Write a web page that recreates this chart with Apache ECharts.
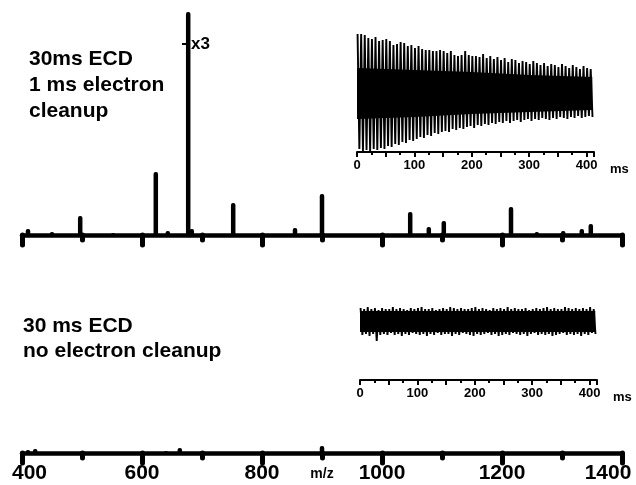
<!DOCTYPE html>
<html>
<head>
<meta charset="utf-8">
<script src="https://cdn.jsdelivr.net/npm/echarts@6/dist/echarts.min.js"></script>
<style>
html,body{margin:0;padding:0;background:#fff;}
#chart{width:636px;height:485px;}
</style>
</head>
<body>
<div id="chart"></div>
<script>
// ---------- data ----------
// Top spectrum (30 ms ECD, 1 ms electron cleanup): m/z and displayed intensity (arb.)
const mzTop  = [410, 450, 497, 552, 623, 643, 677, 683, 752, 855, 900, 1047, 1078, 1103, 1215, 1258, 1302, 1333, 1348];
const intTop = [6,   3,   19,  2,   63,  4,   223, 6,   32,  7,   41,  23,   8,    14,   28,   3,    4,    6,    11];
// Bottom spectrum (30 ms ECD, no electron cleanup)
const mzBot  = [410, 422, 640, 663, 900];
const intBot = [3,   4,   2,   5,   7];
// Axis tick labels
const mzTicks = [400, 600, 800, 1000, 1200, 1400];
const msTicks = [0, 100, 200, 300, 400];

// Transient (top inset): spike extremes, one pair per beat, sampled every 6.25 ms
const transStep = 6.25;
const transTop = [59, 59, 58, 55, 54, 56, 52, 53, 54, 52, 48, 49, 51, 50, 47, 48, 45, 47, 44, 43, 43, 42, 42, 43, 42, 40, 42, 38, 37, 38, 42, 38, 37,
                  37, 36, 39, 35, 37, 34, 36, 33, 35, 31, 34, 33, 30, 32, 31, 29, 32, 30, 28, 30, 27, 29, 28, 26, 29, 27, 25, 28, 26, 24, 27, 25, 24];
const transBot = [-56, -58, -57, -58, -56, -57, -55, -56, -53, -54, -51, -52, -49, -50, -47, -48, -46, -44, -45, -42, -43, -40, -41, -39, -38, -39, -36, -37, -35, -36, -34, -33, -35,
                  -32, -33, -31, -32, -30, -31, -29, -30, -28, -30, -28, -27, -29, -27, -26, -28, -26, -27, -25, -26, -27, -25, -26, -24, -25, -26, -24, -25, -23, -25, -24, -23, -24];
const transCoreT   = [0, 100, 200, 300, 410];
const transCoreTop = [25, 23, 21, 18, 16];
const transCoreBot = [-26, -24, -21, -19, -17];

// Transient (bottom inset): noise extremes
const noiseTop = [13, 12, 14, 12, 13, 11, 13, 12, 12, 14, 12, 13, 12, 11, 13, 12, 13, 14, 12, 12, 13, 11, 12, 13, 12, 14, 13, 12, 13, 12, 12, 13, 14,
                  12, 13, 12, 11, 13, 12, 13, 12, 14, 12, 13, 12, 12, 13, 11, 12, 13, 12, 13, 14, 12, 13, 12, 12, 14, 13, 12, 13, 12, 13, 12, 14, 12];
const noiseBot = [-14, -13, -15, -13, -20, -14, -13, -14, -12, -14, -13, -15, -13, -14, -12, -13, -14, -13, -15, -13, -14, -12, -14, -13, -13, -15, -13, -14, -12, -13, -14, -15, -13,
                  -14, -13, -12, -14, -13, -15, -14, -13, -14, -12, -13, -14, -13, -15, -13, -12, -14, -13, -14, -13, -15, -14, -13, -12, -14, -13, -14, -13, -15, -13, -14, -12, -13];
const noiseCoreT   = [0, 410];
const noiseCoreTop = [10, 10];
const noiseCoreBot = [-11, -11];

// ---------- build ----------
const FONT = 'Liberation Sans, Arial, Helvetica, sans-serif';
function zigzag(tops, bots, step) {
  const out = [];
  for (let i = 0; i < tops.length; i++) {
    const t = 1 + i * step;
    out.push([t, tops[i]]);
    out.push([t + step / 2, bots[i]]);
  }
  return out;
}
function pairs(xs, ys) { return xs.map((x, i) => [x, ys[i]]); }

const mainAxisCommon = {
  type: 'value', min: 400, max: 1400, interval: 200,
  axisLine: { show: true, onZero: false, lineStyle: { color: '#000', width: 4.5, cap: 'round' } },
  axisTick: { show: true, length: 10, lineStyle: { color: '#000', width: 5, cap: 'round' } },
  minorTick: { show: true, splitNumber: 2, length: 5, lineStyle: { color: '#000', width: 5, cap: 'round' } },
  splitLine: { show: false }, minorSplitLine: { show: false }
};

const insetAxis = (gridIndex) => ({
  type: 'value', gridIndex, min: 0, max: 413, interval: 50,
  name: 'ms', nameLocation: 'end', nameGap: 16, nameMoveOverlap: false,
  nameTextStyle: { color: '#000', fontFamily: FONT, fontWeight: 'bold', fontSize: 13, verticalAlign: 'top', padding: [11, 0, 0, 0] },
  axisLine: { show: true, onZero: false, lineStyle: { color: '#000', width: 2 } },
  axisTick: { show: true, length: 5, lineStyle: { color: '#000', width: 2 } },
  minorTick: { show: true, splitNumber: 2, length: 3, lineStyle: { color: '#000', width: 2 } },
  axisLabel: { color: '#000', fontFamily: FONT, fontWeight: 'bold', fontSize: 13, margin: 7,
    formatter: (v) => (msTicks.indexOf(v) >= 0 ? String(v) : '') },
  splitLine: { show: false }
});

const option = {
  animation: false,
  backgroundColor: '#fff',
  grid: [
    { left: 22, right: 14, top: 5, height: 230, outerBoundsMode: 'none', containLabel: false },
    { left: 22, right: 14, top: 400, height: 53, outerBoundsMode: 'none', containLabel: false },
    { left: 357, top: 30, width: 237, height: 122, outerBoundsMode: 'none', containLabel: false },
    { left: 360, top: 258, width: 237, height: 122, outerBoundsMode: 'none', containLabel: false }
  ],
  xAxis: [
    Object.assign({ gridIndex: 0, axisLabel: { show: false } }, mainAxisCommon),
    Object.assign({ gridIndex: 1,
      name: 'm/z', nameLocation: 'middle', nameGap: 14, nameMoveOverlap: false,
      nameTextStyle: { color: '#000', fontFamily: FONT, fontWeight: 'bold', fontSize: 14 },
      axisLabel: { show: true, color: '#000', fontFamily: FONT, fontWeight: 'bold', fontSize: 21, margin: 10,
        formatter: (v) => {
          if (mzTicks.indexOf(v) < 0) return '';
          if (v === 400) return '{a|' + v + '}';
          if (v === 1400) return '{b|' + v + '}';
          return String(v);
        },
        rich: {
          a: { fontFamily: FONT, fontWeight: 'bold', fontSize: 21, color: '#000', padding: [0, 0, 0, 15] },
          b: { fontFamily: FONT, fontWeight: 'bold', fontSize: 21, color: '#000', padding: [0, 28, 0, 0] }
        }
      } }, mainAxisCommon),
    insetAxis(2),
    insetAxis(3)
  ],
  yAxis: [
    { type: 'value', gridIndex: 0, min: 0, max: 230, show: false },
    { type: 'value', gridIndex: 1, min: 0, max: 53, show: false },
    { type: 'value', gridIndex: 2, min: -59, max: 63, show: false },
    { type: 'value', gridIndex: 3, min: -59, max: 63, show: false }
  ],
  series: [
    { type: 'bar', xAxisIndex: 0, yAxisIndex: 0, barWidth: 4.5, data: pairs(mzTop, intTop),
      itemStyle: { color: '#000', borderRadius: [2, 2, 0, 0] } },
    { type: 'bar', xAxisIndex: 1, yAxisIndex: 1, barWidth: 4.5, data: pairs(mzBot, intBot),
      itemStyle: { color: '#000', borderRadius: [2, 2, 0, 0] } },
    // top inset transient
    { type: 'line', xAxisIndex: 2, yAxisIndex: 2, showSymbol: false, data: pairs(transCoreT, transCoreTop),
      lineStyle: { width: 0 }, areaStyle: { color: '#000', opacity: 1 } },
    { type: 'line', xAxisIndex: 2, yAxisIndex: 2, showSymbol: false, data: pairs(transCoreT, transCoreBot),
      lineStyle: { width: 0 }, areaStyle: { color: '#000', opacity: 1 } },
    { type: 'line', xAxisIndex: 2, yAxisIndex: 2, showSymbol: false, data: zigzag(transTop, transBot, transStep),
      lineStyle: { color: '#000', width: 1.9 } },
    // bottom inset transient
    { type: 'line', xAxisIndex: 3, yAxisIndex: 3, showSymbol: false, data: pairs(noiseCoreT, noiseCoreTop),
      lineStyle: { width: 0 }, areaStyle: { color: '#000', opacity: 1 } },
    { type: 'line', xAxisIndex: 3, yAxisIndex: 3, showSymbol: false, data: pairs(noiseCoreT, noiseCoreBot),
      lineStyle: { width: 0 }, areaStyle: { color: '#000', opacity: 1 } },
    { type: 'line', xAxisIndex: 3, yAxisIndex: 3, showSymbol: false, data: zigzag(noiseTop, noiseBot, transStep),
      lineStyle: { color: '#000', width: 1.9 } }
  ],
  graphic: [
    { type: 'text', left: 29, top: 49, style: { text: '30ms ECD', font: 'bold 21px ' + FONT, fill: '#000' } },
    { type: 'text', left: 29, top: 75, style: { text: '1 ms electron', font: 'bold 21px ' + FONT, fill: '#000' } },
    { type: 'text', left: 29, top: 101, style: { text: 'cleanup', font: 'bold 21px ' + FONT, fill: '#000' } },
    { type: 'text', left: 23, top: 316, style: { text: '30 ms ECD', font: 'bold 21px ' + FONT, fill: '#000' } },
    { type: 'text', left: 23, top: 341, style: { text: 'no electron cleanup', font: 'bold 21px ' + FONT, fill: '#000' } },
    { type: 'text', left: 191, top: 36, style: { text: 'x3', font: 'bold 17px ' + FONT, fill: '#000' } },
    { type: 'line', shape: { x1: 182, y1: 44, x2: 190, y2: 44 }, style: { stroke: '#000', lineWidth: 2 } }
  ]
};

const chart = echarts.init(document.getElementById('chart'), null, { renderer: 'canvas' });
chart.setOption(option);
</script>
</body>
</html>
